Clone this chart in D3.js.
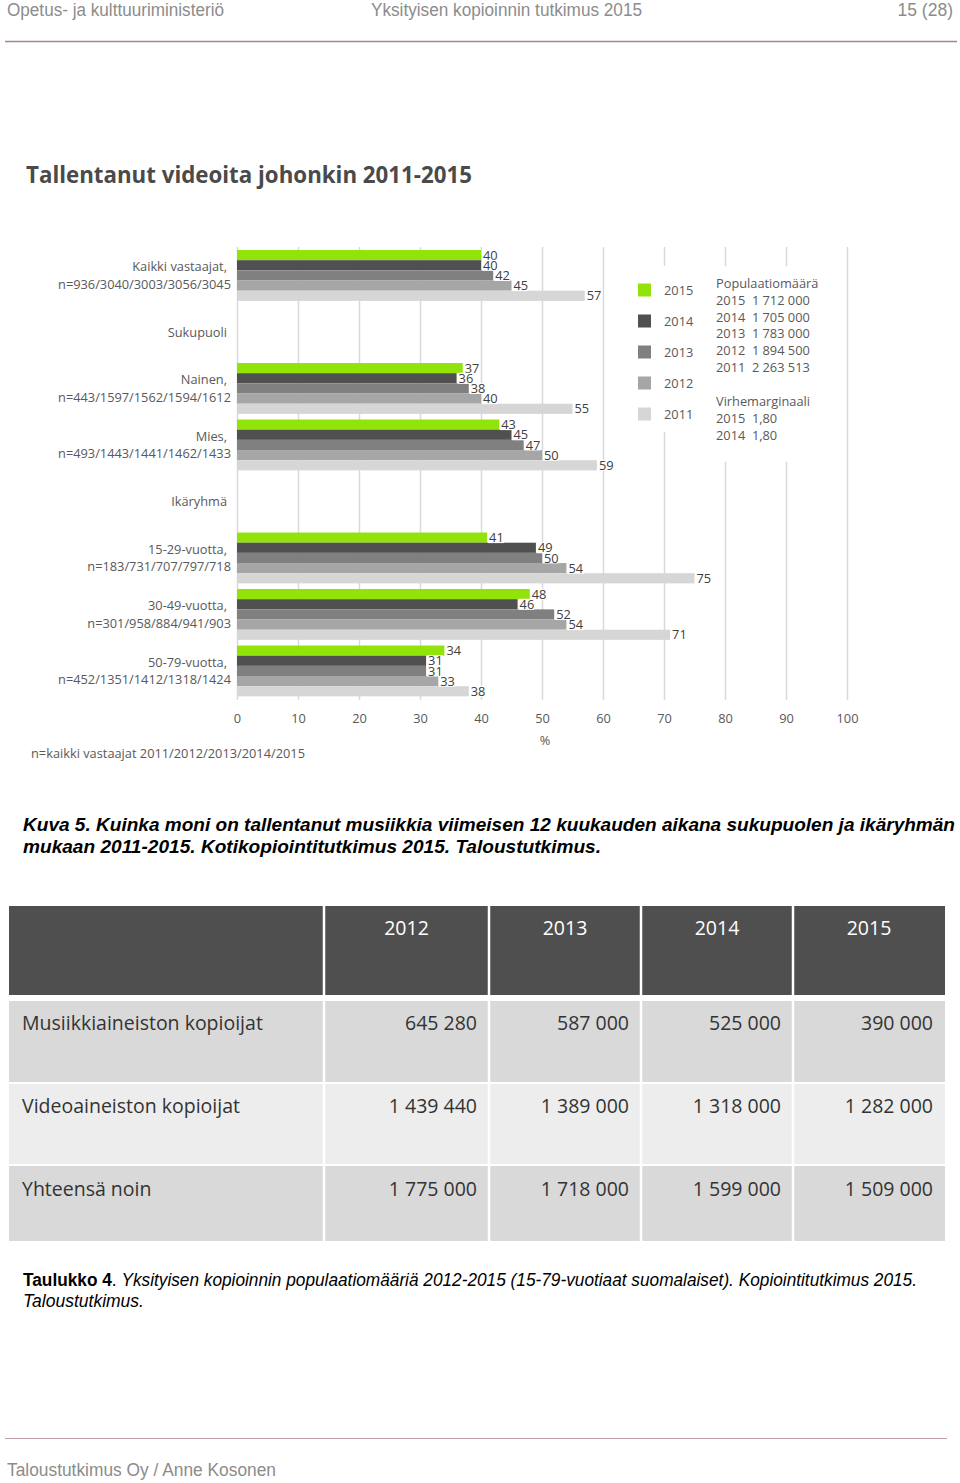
<!DOCTYPE html>
<html><head><meta charset="utf-8">
<script src="https://cdn.jsdelivr.net/npm/d3@7"></script>
<style>
body{margin:0;background:#fff}
text{white-space:pre}
</style>
</head><body>
<svg id="c" width="960" height="1483"></svg>
<script>
// ---------- DATA ----------
const categories = [
  ["Kaikki vastaajat,", "n=936/3040/3003/3056/3045"],
  ["Sukupuoli"],
  ["Nainen,", "n=443/1597/1562/1594/1612"],
  ["Mies,", "n=493/1443/1441/1462/1433"],
  ["Ikäryhmä"],
  ["15-29-vuotta,", "n=183/731/707/797/718"],
  ["30-49-vuotta,", "n=301/958/884/941/903"],
  ["50-79-vuotta,", "n=452/1351/1412/1318/1424"]
];
const years = ["2015", "2014", "2013", "2012", "2011"];
const values2015 = [40, null, 37, 43, null, 41, 48, 34];
const values2014 = [40, null, 36, 45, null, 49, 46, 31];
const values2013 = [42, null, 38, 47, null, 50, 52, 31];
const values2012 = [45, null, 40, 50, null, 54, 54, 33];
const values2011 = [57, null, 55, 59, null, 75, 71, 38];
const seriesColors = ["#92e30a", "#505050", "#808080", "#a6a6a6", "#d6d6d6"];
const xTicks = [0, 10, 20, 30, 40, 50, 60, 70, 80, 90, 100];
const populationLines = ["Populaatiomäärä", "2015  1 712 000", "2014  1 705 000", "2013  1 783 000", "2012  1 894 500", "2011  2 263 513", "", "Virhemarginaali", "2015  1,80", "2014  1,80"];

const tableYears = ["2012", "2013", "2014", "2015"];
const tableRowLabels = ["Musiikkiaineiston kopioijat", "Videoaineiston kopioijat", "Yhteensä noin"];
const musiikkiValues = ["645 280", "587 000", "525 000", "390 000"];
const videoValues = ["1 439 440", "1 389 000", "1 318 000", "1 282 000"];
const totalValues = ["1 775 000", "1 718 000", "1 599 000", "1 509 000"];

// ---------- DRAW ----------
const svg = d3.select("#c");
svg.append("rect").attr("width", 960).attr("height", 1483).attr("fill", "#fff");

const headFont = "'Liberation Sans Narrow','Liberation Sans',Arial,sans-serif";
const chartFont = "'Open Sans',sans-serif";
const fs = 12.8;

// page header
svg.append("text").attr("x", 7).attr("y", 16).attr("font-family", headFont).attr("font-size", 17.5)
  .attr("fill", "#8c8c8c").attr("textLength", 217).attr("lengthAdjust", "spacingAndGlyphs").text("Opetus- ja kulttuuriministeriö");
svg.append("text").attr("x", 371).attr("y", 16).attr("font-family", headFont).attr("font-size", 17.5)
  .attr("fill", "#8c8c8c").attr("textLength", 271).attr("lengthAdjust", "spacingAndGlyphs").text("Yksityisen kopioinnin tutkimus 2015");
svg.append("text").attr("x", 953).attr("y", 16).attr("text-anchor", "end").attr("font-family", headFont).attr("font-size", 17.5)
  .attr("fill", "#8c8c8c").text("15 (28)");
svg.append("line").attr("x1", 5).attr("x2", 957).attr("y1", 41.5).attr("y2", 41.5).attr("stroke", "#a88490").attr("stroke-width", 1.5);

// title
svg.append("text").attr("x", 26).attr("y", 183).attr("font-family", chartFont).attr("font-weight", 700)
  .attr("font-size", 22.3).attr("fill", "#4a4a4a").text("Tallentanut videoita johonkin 2011-2015");

// scales
const x = d3.scaleLinear().domain([0, 100]).range([237, 847]);
const y = d3.scaleBand().domain(d3.range(categories.length)).range([247.2, 699.2]).paddingInner(0.1).paddingOuter(0.05);
const yInner = d3.scaleBand().domain(years).range([0, y.bandwidth()]);

// gridlines + tick labels
const axis = d3.axisBottom(x).tickValues(xTicks).tickSize(-(700 - 247)).tickPadding(14).tickFormat(d3.format("d"));
const gAxis = svg.append("g").attr("transform", "translate(0,700)").call(axis);
gAxis.select(".domain").remove();
gAxis.selectAll(".tick line").attr("stroke", "#d9d9d9").attr("stroke-width", 1.5);
gAxis.selectAll(".tick text").attr("font-family", chartFont).attr("font-size", fs).attr("fill", "#595959");

// legend area background (covers gridlines)
svg.append("rect").attr("x", 627).attr("y", 266).attr("width", 78).attr("height", 166).attr("fill", "#fff");
svg.append("rect").attr("x", 705).attr("y", 266).attr("width", 136).attr("height", 196).attr("fill", "#fff");

// bars
const seriesValues = [values2015, values2014, values2013, values2012, values2011];
const barData = [];
categories.forEach((c, i) => {
  years.forEach((yr, s) => {
    const v = seriesValues[s][i];
    if (v !== null) barData.push({ cat: i, year: yr, s, v });
  });
});
svg.append("g").selectAll("rect").data(barData).join("rect")
  .attr("x", x(0)).attr("y", d => y(d.cat) + yInner(d.year))
  .attr("width", d => x(d.v) - x(0)).attr("height", yInner.bandwidth())
  .attr("fill", d => seriesColors[d.s]);

// value labels with white background
const lg = svg.append("g");
barData.forEach(d => {
  const cy = y(d.cat) + yInner(d.year) + yInner.bandwidth() / 2;
  const t = lg.append("text").attr("x", x(d.v) + 2).attr("y", cy + 4.6)
    .attr("font-family", chartFont).attr("font-size", fs).attr("fill", "#404040").text(d.v);
  const bb = t.node().getBBox();
  lg.insert("rect", () => t.node()).attr("x", bb.x - 1).attr("y", cy - 5.5).attr("width", bb.width + 1).attr("height", 11).attr("fill", "#fff");
});

// category labels
const cg = svg.append("g");
categories.forEach((lines, i) => {
  const cy = y(i) + y.bandwidth() / 2;
  const lh = 17.5;
  lines.forEach((ln, k) => {
    const off = (k - (lines.length - 1) / 2) * lh;
    cg.append("text").attr("x", lines.length === 1 ? 227 : (k === 0 ? 227 : 231))
      .attr("y", cy + off + 4.7).attr("text-anchor", "end")
      .attr("font-family", chartFont).attr("font-size", fs).attr("fill", "#595959").text(ln);
  });
});

// legend
const leg = svg.append("g");
years.forEach((yr, s) => {
  const cy = 290 + s * 31;
  leg.append("rect").attr("x", 638).attr("y", cy - 6.5).attr("width", 13).attr("height", 13).attr("fill", seriesColors[s]);
  leg.append("text").attr("x", 664).attr("y", cy + 4.7).attr("font-family", chartFont).attr("font-size", fs)
    .attr("fill", "#595959").text(yr);
});
populationLines.forEach((ln, k) => {
  leg.append("text").attr("x", 716).attr("y", 287.7 + k * 16.9).attr("font-family", chartFont).attr("font-size", fs)
    .attr("fill", "#595959").text(ln);
});

// axis unit + note
svg.append("text").attr("x", 545).attr("y", 745).attr("text-anchor", "middle").attr("font-family", chartFont)
  .attr("font-size", fs).attr("fill", "#595959").text("%");
svg.append("text").attr("x", 31).attr("y", 758).attr("font-family", chartFont)
  .attr("font-size", fs).attr("fill", "#595959").text("n=kaikki vastaajat 2011/2012/2013/2014/2015");

// caption Kuva 5
const capFont = headFont;
svg.append("text").attr("x", 23).attr("y", 831).attr("font-family", capFont).attr("font-size", 19)
  .attr("font-weight", 700).attr("font-style", "italic").attr("fill", "#000")
  .attr("textLength", 932).attr("lengthAdjust", "spacingAndGlyphs")
  .text("Kuva 5. Kuinka moni on tallentanut musiikkia viimeisen 12 kuukauden aikana sukupuolen ja ikäryhmän");
svg.append("text").attr("x", 23).attr("y", 853).attr("font-family", capFont).attr("font-size", 19)
  .attr("font-weight", 700).attr("font-style", "italic").attr("fill", "#000")
  .attr("textLength", 578).attr("lengthAdjust", "spacingAndGlyphs")
  .text("mukaan 2011-2015. Kotikopiointitutkimus 2015. Taloustutkimus.");

// table
const colEdges = [9, 324, 489, 641, 793, 945];
const gap = 2.5;
const headerTop = 906, headerBottom = 995;
const rowBands = [[1001, 1082], [1084, 1164], [1166, 1241]];
const rowFills = ["#d9d9d9", "#ededed", "#d9d9d9"];
const tableValues = [musiikkiValues, videoValues, totalValues];
const tg = svg.append("g");
for (let c = 0; c < 5; c++) {
  const x0 = colEdges[c] + (c === 0 ? 0 : gap / 2), x1 = colEdges[c + 1] - (c === 4 ? 0 : gap / 2);
  tg.append("rect").attr("x", x0).attr("y", headerTop).attr("width", x1 - x0).attr("height", headerBottom - headerTop).attr("fill", "#4f4f4f");
  rowBands.forEach((rb, r) => {
    tg.append("rect").attr("x", x0).attr("y", rb[0]).attr("width", x1 - x0).attr("height", rb[1] - rb[0]).attr("fill", rowFills[r]);
  });
}
tableYears.forEach((yr, c) => {
  tg.append("text").attr("x", (colEdges[c + 1] + colEdges[c + 2]) / 2).attr("y", 935).attr("text-anchor", "middle")
    .attr("font-family", chartFont).attr("font-size", 19.5).attr("fill", "#fff").text(yr);
});
tableRowLabels.forEach((lab, r) => {
  const base = [1030, 1113, 1196][r];
  tg.append("text").attr("x", 22).attr("y", base).attr("font-family", chartFont).attr("font-size", 19.5)
    .attr("fill", "#333").text(lab);
  tableValues[r].forEach((v, c) => {
    tg.append("text").attr("x", colEdges[c + 2] - 12).attr("y", base).attr("text-anchor", "end")
      .attr("font-family", chartFont).attr("font-size", 19.5).attr("fill", "#333").text(v);
  });
});

// table caption
const tc = svg.append("text").attr("x", 23).attr("y", 1286).attr("font-family", capFont).attr("font-size", 17.5).attr("fill", "#000")
  .attr("textLength", 894).attr("lengthAdjust", "spacingAndGlyphs");
tc.append("tspan").attr("font-weight", 700).text("Taulukko 4");
tc.append("tspan").text(". ");
tc.append("tspan").attr("font-style", "italic").text("Yksityisen kopioinnin populaatiomääriä 2012-2015 (15-79-vuotiaat suomalaiset). Kopiointitutkimus 2015.");
svg.append("text").attr("x", 23).attr("y", 1307).attr("font-family", capFont).attr("font-size", 17.5)
  .attr("font-style", "italic").attr("fill", "#000").text("Taloustutkimus.");

// footer
svg.append("line").attr("x1", 5).attr("x2", 947).attr("y1", 1438.5).attr("y2", 1438.5).attr("stroke", "#c0a0a8").attr("stroke-width", 1.2);
svg.append("text").attr("x", 7).attr("y", 1476).attr("font-family", headFont).attr("font-size", 17.5)
  .attr("fill", "#8c8c8c").attr("textLength", 269).attr("lengthAdjust", "spacingAndGlyphs").text("Taloustutkimus Oy / Anne Kosonen");
</script>
</body></html>
